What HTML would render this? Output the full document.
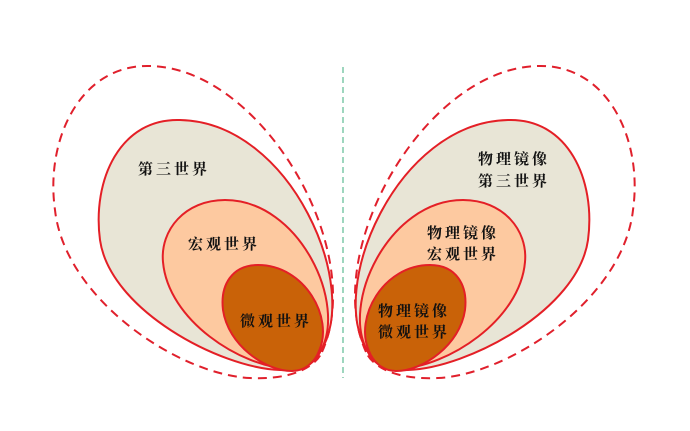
<!DOCTYPE html>
<html><head><meta charset="utf-8"><style>
html,body{margin:0;padding:0;background:#fff;}
svg{display:block;}
text{font-family:"Liberation Serif","Noto Serif CJK SC",serif;font-size:15px;font-weight:bold;fill:#111;letter-spacing:3px;}
</style></head><body>
<svg width="690" height="431" viewBox="0 0 690 431" xmlns="http://www.w3.org/2000/svg">
<defs>
<g id="S">
<path d="M322,352 C368,250 262,68 150,66 C80,64 45,140 55,210 C65,300 180,375 250,378 C290,380 315,368 322,352 Z" fill="none" stroke="#e0202c" stroke-width="2" stroke-dasharray="9,6"/>
<path d="M320,352 C362,290 292,122 180,120 C120,118 92,180 100,240 C110,310 220,368 280,370 C300,371 315,362 320,352 Z" fill="#e8e5d6" stroke="#e41f26" stroke-width="2"/>
<path d="M320,352 C348,305 300,200 225,200 C185,200 160,230 163,262 C168,320 240,367 290,369 C305,369 316,362 320,352 Z" fill="#fdc9a0" stroke="#e41f26" stroke-width="2"/>
<path d="M319,351 C334,318 305,265 258,265 C232,265 220,285 223,310 C228,345 265,371 292,371 C305,371 315,362 319,351 Z" fill="#c96208" stroke="#e41f26" stroke-width="2"/>
</g>
</defs>
<line x1="343" y1="67" x2="343" y2="378" stroke="#7fc8a8" stroke-width="1.5" stroke-dasharray="6,4"/>
<use href="#S"/>
<use href="#S" transform="translate(688,0) scale(-1,1)"/>
<text x="138" y="174">第三世界</text>
<text x="188" y="249">宏观世界</text>
<text x="240" y="326">微观世界</text>
<text x="478" y="164">物理镜像</text>
<text x="478" y="186">第三世界</text>
<text x="427" y="238">物理镜像</text>
<text x="427" y="259">宏观世界</text>
<text x="378" y="316">物理镜像</text>
<text x="378" y="337">微观世界</text>
</svg>
</body></html>
